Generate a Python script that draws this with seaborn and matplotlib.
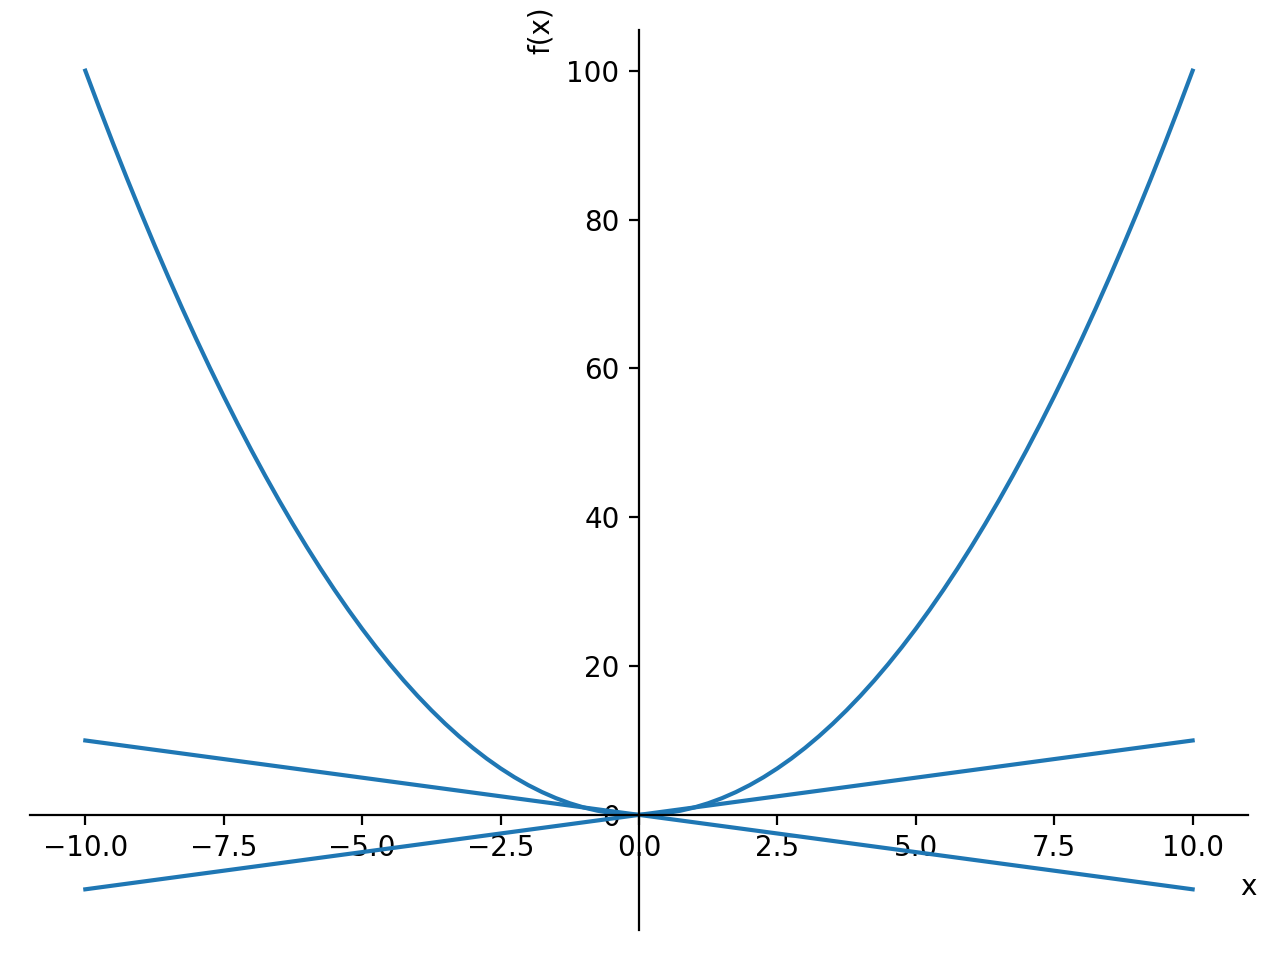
import matplotlib
matplotlib.use("Agg")
import matplotlib.pyplot as plt
import seaborn as sns
import pandas as pd

# Values (right half of the parabola; left half mirrors it)
x_parab_right = [0.0, 0.25, 0.5, 0.75, 1.0, 1.25, 1.5, 1.75, 2.0, 2.25, 2.5,
                 2.75, 3.0, 3.25, 3.5, 3.75, 4.0, 4.25, 4.5, 4.75, 5.0,
                 5.25, 5.5, 5.75, 6.0, 6.25, 6.5, 6.75, 7.0, 7.25, 7.5,
                 7.75, 8.0, 8.25, 8.5, 8.75, 9.0, 9.25, 9.5, 9.75, 10.0]
y_parab_right = [0.0, 0.0625, 0.25, 0.5625, 1.0, 1.5625, 2.25, 3.0625, 4.0, 5.0625, 6.25,
                 7.5625, 9.0, 10.5625, 12.25, 14.0625, 16.0, 18.0625, 20.25, 22.5625, 25.0,
                 27.5625, 30.25, 33.0625, 36.0, 39.0625, 42.25, 45.5625, 49.0, 52.5625, 56.25,
                 60.0625, 64.0, 68.0625, 72.25, 76.5625, 81.0, 85.5625, 90.25, 95.0625, 100.0]
x_line = [-10.0, 0.0, 10.0]
y_rising = [-10.0, 0.0, 10.0]
y_falling = [10.0, 0.0, -10.0]

x_parab = [-v for v in reversed(x_parab_right[1:])] + x_parab_right
y_parab = list(reversed(y_parab_right[1:])) + y_parab_right

color = "#1f77b4"

fig, ax = plt.subplots(figsize=(6.4, 4.8), dpi=200)
fig.subplots_adjust(left=0.0234, right=0.975, bottom=0.031, top=0.969)

for xs, ys in [(x_parab, y_parab), (x_line, y_rising), (x_line, y_falling)]:
    df = pd.DataFrame({"x": xs, "y": ys})
    sns.lineplot(data=df, x="x", y="y", ax=ax, color=color, linewidth=1.5,
                 sort=False, estimator=None)

ax.set_xlim(-11, 11)
ax.set_ylim(-15.5, 105.5)
ax.spines["left"].set_position(("data", 0))
ax.spines["bottom"].set_position(("data", 0))
ax.spines["top"].set_visible(False)
ax.spines["right"].set_visible(False)
ax.set_xticks([-10.0, -7.5, -5.0, -2.5, 0.0, 2.5, 5.0, 7.5, 10.0])
ax.set_yticks([0, 20, 40, 60, 80, 100])
ax.set_xlabel("x")
ax.set_ylabel("f(x)")
ax.xaxis.label.set_x(1.0)
ax.xaxis.label.set_horizontalalignment("center")
ax.yaxis.label.set_y(1.0)
ax.yaxis.label.set_horizontalalignment("center")

fig.savefig("out.png", dpi=200)
